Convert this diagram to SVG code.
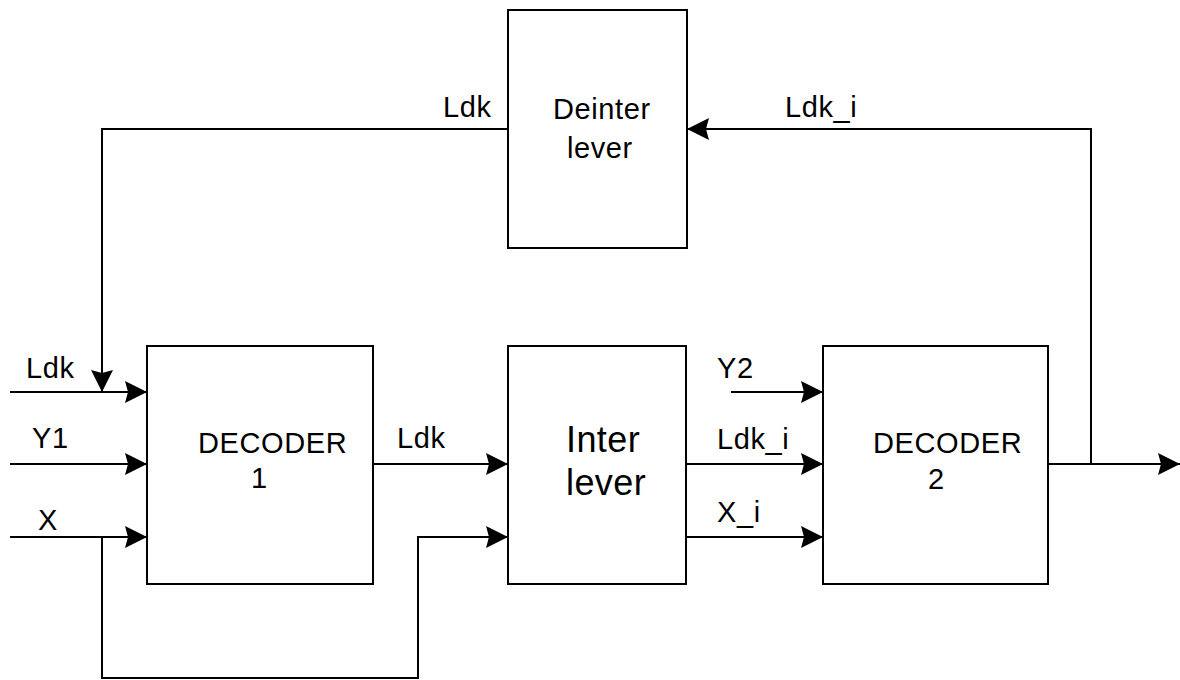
<svg xmlns="http://www.w3.org/2000/svg" width="1180" height="680" viewBox="0 0 1180 680">
  <style>
    .box { fill: #fff; stroke: #000; stroke-width: 2; }
    .wire { fill: none; stroke: #000; stroke-width: 2; }
    .lbl { font-family: "Liberation Sans", Arial, Helvetica, sans-serif; font-size: 29px; fill: #000; letter-spacing: 0.6px; }
    .big { font-size: 36px; letter-spacing: 0.4px; }
  </style>
  <defs>
    <marker id="arrow" viewBox="-23 -12 24 24" refX="0" refY="0" markerWidth="24" markerHeight="24" markerUnits="userSpaceOnUse" orient="auto">
      <path d="M0,0 L-22,-11 L-19,0 L-22,11 Z" fill="#000"/>
    </marker>
  </defs>
  <rect width="1180" height="680" fill="#fff"/>

  <!-- connectors -->
  <g id="connectors">
    <path class="wire" d="M508,129 H102 V392" marker-end="url(#arrow)"/>
    <path class="wire" d="M10,392 H147" marker-end="url(#arrow)"/>
    <path class="wire" d="M10,464 H147" marker-end="url(#arrow)"/>
    <path class="wire" d="M10,537 H147" marker-end="url(#arrow)"/>
    <path class="wire" d="M102,537 V678 H418 V537 H508" marker-end="url(#arrow)"/>
    <path class="wire" d="M373,464 H508" marker-end="url(#arrow)"/>
    <path class="wire" d="M731,392 H823" marker-end="url(#arrow)"/>
    <path class="wire" d="M686,464 H823" marker-end="url(#arrow)"/>
    <path class="wire" d="M686,537 H823" marker-end="url(#arrow)"/>
    <path class="wire" d="M1048,464 H1180" marker-end="url(#arrow)"/>
    <path class="wire" d="M1091,464 V129 H687" marker-end="url(#arrow)"/>
  </g>

  <!-- connector labels -->
  <g id="labels">
    <text class="lbl" x="443" y="117">Ldk</text>
    <text class="lbl" x="785" y="117">Ldk_i</text>
    <text class="lbl" x="26" y="378">Ldk</text>
    <text class="lbl" x="32" y="448">Y1</text>
    <text class="lbl" x="38" y="530">X</text>
    <text class="lbl" x="397" y="448">Ldk</text>
    <text class="lbl" x="717" y="378">Y2</text>
    <text class="lbl" x="717" y="449">Ldk_i</text>
    <text class="lbl" x="717" y="522">X_i</text>
  </g>

  <g id="deinterleaver">
    <rect class="box" x="508" y="10" width="179" height="238"/>
    <text class="lbl" x="553" y="119">Deinter</text>
    <text class="lbl" x="567" y="158">lever</text>
  </g>

  <g id="decoder1">
    <rect class="box" x="147" y="346" width="226" height="238"/>
    <text class="lbl" x="198" y="453">DECODER</text>
    <text class="lbl" x="251" y="488">1</text>
  </g>

  <g id="interleaver">
    <rect class="box" x="508" y="346" width="178" height="238"/>
    <text class="lbl big" x="566" y="452">Inter</text>
    <text class="lbl big" x="566" y="495">lever</text>
  </g>

  <g id="decoder2">
    <rect class="box" x="823" y="346" width="225" height="238"/>
    <text class="lbl" x="873" y="453">DECODER</text>
    <text class="lbl" x="928" y="489">2</text>
  </g>
</svg>
